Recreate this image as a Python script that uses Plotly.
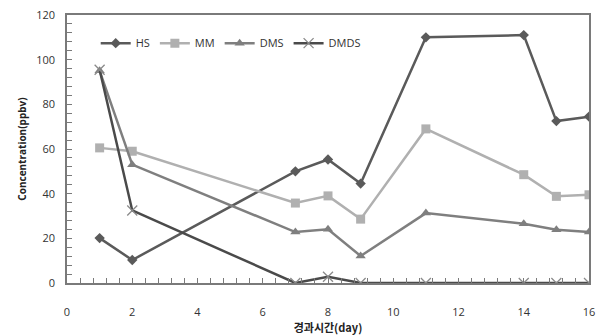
import plotly.graph_objects as go

days = [1, 2, 7, 8, 9, 11, 14, 15, 16]
hs = [20.1, 10.3, 50.0, 55.3, 44.5, 110.0, 111.0, 72.5, 74.5]
mm = [60.5, 59.0, 35.8, 39.0, 28.6, 69.0, 48.5, 38.8, 39.5]
dms = [95.0, 53.0, 22.8, 24.1, 12.1, 31.3, 26.5, 23.8, 22.8]
dmds = [95.5, 32.5, 0.0, 2.8, 0.0, 0.0, 0.0, 0.0, 0.0]

font = "Open Sans, DejaVu Sans, sans-serif"
fig = go.Figure()
series = [
    ("HS", hs, "#5a5a5a", dict(color="#5a5a5a", symbol="diamond", size=8)),
    ("MM", mm, "#b0b0b0", dict(color="#b0b0b0", symbol="square", size=9)),
    ("DMS", dms, "#7f7f7f", dict(color="#7f7f7f", symbol="triangle-up", size=9)),
    ("DMDS", dmds, "#4a4a4a", dict(color="#8a8a8a", symbol="x-thin-open", size=10, line=dict(width=1.3))),
]
for name, vals, col, mk in series:
    fig.add_trace(go.Scatter(x=days, y=vals, name=name, mode="lines+markers",
                             line=dict(color=col, width=2.5), marker=mk))

axcol = "#7a7a7a"
fig.update_layout(
    width=603, height=336,
    margin=dict(l=67, r=14, t=15, b=53),
    paper_bgcolor="white", plot_bgcolor="white",
    font=dict(family=font, size=11, color="#333"),
    legend=dict(orientation="h", x=0.055, y=0.895, xanchor="left", yanchor="middle",
                bgcolor="rgba(0,0,0,0)", font=dict(size=11, color="#333"),
                itemwidth=30, tracegroupgap=0),
    showlegend=True,
)
fig.update_xaxes(range=[0, 16], tickvals=[0, 2, 4, 6, 8, 10, 12, 14, 16], automargin=False,
                 showgrid=False, zeroline=False, showline=True, linecolor=axcol, linewidth=1.5,
                 mirror=True, ticks="inside", ticklen=5, tickcolor=axcol, tickwidth=1,
                 ticklabelstandoff=18,
                 minor=dict(dtick=0.4, ticks="inside", ticklen=5, tickcolor=axcol, tickwidth=1, showgrid=False),
                 title=dict(text="<b>경과시간(day)</b>", font=dict(size=11, color="#222",
                            family="Noto Sans CJK KR, sans-serif"), standoff=4))
fig.update_yaxes(range=[0, 120], tickvals=[0, 20, 40, 60, 80, 100, 120], automargin=False,
                 showgrid=False, zeroline=False, showline=True, linecolor=axcol, linewidth=1.5,
                 mirror=True, ticks="inside", ticklen=5, tickcolor=axcol, tickwidth=1,
                 ticklabelstandoff=8,
                 minor=dict(dtick=4, ticks="inside", ticklen=5, tickcolor=axcol, tickwidth=1, showgrid=False),
                 title=dict(text="<b>Concentration(ppbv)</b>", font=dict(size=10, color="#222"), standoff=8))
fig.write_html("out.html", config={"displayModeBar": False},
               post_script="document.body.style.margin='0';document.body.style.overflow='hidden';")
